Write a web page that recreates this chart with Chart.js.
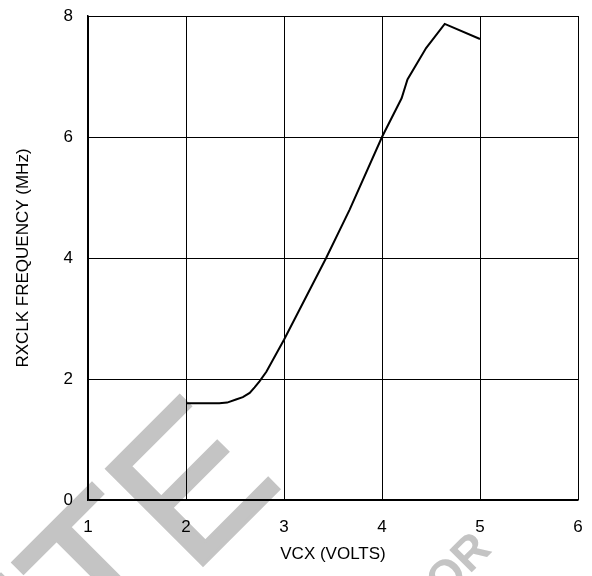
<!DOCTYPE html>
<html>
<head>
<meta charset="utf-8">
<script src="https://cdn.jsdelivr.net/npm/chart.js@4/dist/chart.umd.min.js"></script>
<style>
  html, body { margin: 0; padding: 0; background: #fff; }
  #wrap { width: 592px; height: 576px; }
</style>
</head>
<body>
<div id="wrap"><canvas id="rxclkChart" width="592" height="576"></canvas></div>
<script>
// VCX (volts) vs RXCLK frequency (MHz)
const vcxVolts = [2.0, 2.34, 2.42, 2.51, 2.58, 2.65, 2.70, 2.75, 2.82, 3.0, 3.43, 3.67, 4.0, 4.20, 4.26, 4.45, 4.64, 5.0];
const rxclkMhz = [1.60, 1.60, 1.61, 1.66, 1.70, 1.77, 1.86, 1.96, 2.12, 2.65, 4.0, 4.80, 6.0, 6.64, 6.95, 7.47, 7.87, 7.62];
const xTicks = [1, 2, 3, 4, 5, 6];
const yTicks = [0, 2, 4, 6, 8];

const FONT = "'Liberation Sans', Arial, sans-serif";

// grey "obsolete" stamp behind the grid
const stamp = {
    id: 'stamp',
    beforeDraw(chart) {
        const ctx = chart.ctx;
        ctx.save();
        ctx.fillStyle = '#c4c4c4';
        ctx.strokeStyle = '#c4c4c4';
        ctx.lineJoin = 'miter';
        ctx.textAlign = 'right';
        ctx.textBaseline = 'alphabetic';

        ctx.save();
        ctx.translate(285, 483);
        ctx.rotate(-Math.PI / 4);
        ctx.font = "198px 'Liberation Sans', Arial, sans-serif";
        ctx.lineWidth = 3;
        ctx.fillText('OBSOLETE', 0, 0);
        ctx.strokeText('OBSOLETE', 0, 0);
        ctx.restore();

        ctx.save();
        ctx.translate(493, 551);
        ctx.rotate(-Math.PI / 4);
        ctx.font = "bold 46px 'Liberation Sans', Arial, sans-serif";
        ctx.fillText('NOT RECOMMENDED FOR', 0, 0);
        ctx.restore();

        ctx.restore();
    }
};

const points = vcxVolts.map((v, i) => ({ x: v, y: rxclkMhz[i] }));

const config = {
    type: 'line',
    data: {
        datasets: [{
            data: points,
            borderColor: '#000',
            borderWidth: 2,
            pointRadius: 0,
            tension: 0,
            fill: false
        }]
    },
    options: {
        responsive: false,
        animation: false,
        layout: { padding: { top: 16, right: 14, left: 0, bottom: 0 } },
        plugins: { legend: { display: false }, tooltip: { enabled: false } },
        scales: {
            x: {
                type: 'linear',
                min: 1,
                max: 6,
                afterBuildTicks: (s) => { s.ticks = xTicks.map(v => ({ value: v })); },
                afterFit: (s) => { s.height = 76; },
                grid: { color: '#000', lineWidth: 1, drawTicks: true, tickLength: 16, tickColor: 'rgba(0,0,0,0)' },
                border: { color: '#000', width: 1.5 },
                ticks: { color: '#000', padding: 1, font: { family: FONT, size: 17 } },
                title: {
                    display: true,
                    text: 'VCX (VOLTS)',
                    color: '#000',
                    font: { family: FONT, size: 17 },
                    padding: { top: 0, bottom: 11 }
                }
            },
            y: {
                type: 'linear',
                min: 0,
                max: 8,
                afterBuildTicks: (s) => { s.ticks = yTicks.map(v => ({ value: v })); },
                afterFit: (s) => { s.width = 88; },
                grid: { color: '#000', lineWidth: 1, drawTicks: true, tickLength: 14, tickColor: 'rgba(0,0,0,0)' },
                border: { color: '#000', width: 1.5 },
                ticks: { color: '#000', padding: 1, font: { family: FONT, size: 17 } },
                title: {
                    display: true,
                    text: 'RXCLK FREQUENCY (MHz)',
                    color: '#000',
                    font: { family: FONT, size: 17 },
                    padding: { top: 13, bottom: 0 }
                }
            }
        }
    },
    plugins: [stamp]
};

window.addEventListener('load', () => {
    new Chart(document.getElementById('rxclkChart'), config);
});
</script>
</body>
</html>
